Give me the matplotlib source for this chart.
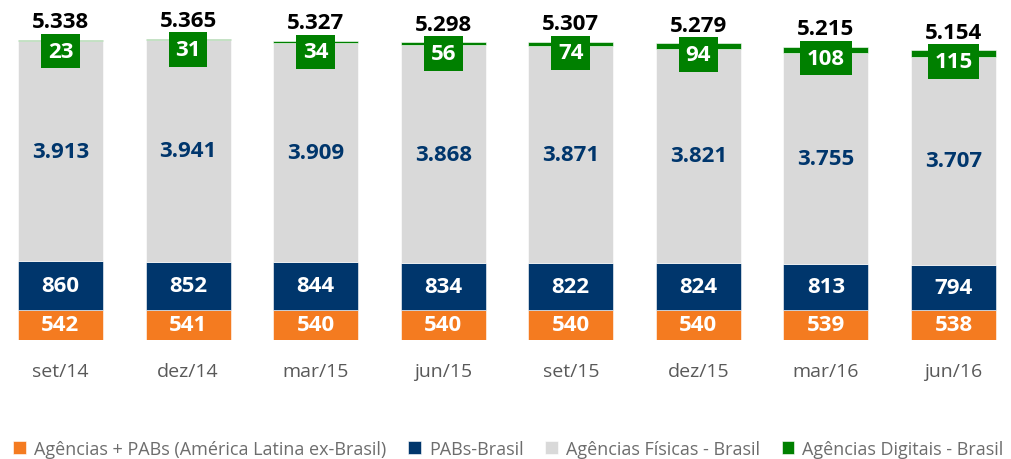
import matplotlib
matplotlib.use("Agg")
import matplotlib.pyplot as plt
import numpy as np

plt.rcParams['font.family'] = ['Open Sans', 'DejaVu Sans']

periods = ['set/14', 'dez/14', 'mar/15', 'jun/15', 'set/15', 'dez/15', 'mar/16', 'jun/16']
latam = [542, 541, 540, 540, 540, 540, 539, 538]
pabs = [860, 852, 844, 834, 822, 824, 813, 794]
fisicas = [3913, 3941, 3909, 3868, 3871, 3821, 3755, 3707]
digitais = [23, 31, 34, 56, 74, 94, 108, 115]
totals = [5338, 5365, 5327, 5298, 5307, 5279, 5215, 5154]

series_names = ['Agências + PABs (América Latina ex-Brasil)', 'PABs-Brasil',
                'Agências Físicas - Brasil', 'Agências Digitais - Brasil']
colors = ['#F47B20', '#00366C', '#D9D9D9', '#008000']
label_colors = ['white', 'white', '#00366C', 'white']

def fmt(v):
    return f"{v:,}".replace(',', '.')

fig = plt.figure(figsize=(10.11, 4.6), dpi=100)
ax = fig.add_axes([0, 0.2587, 1, 0.7413])

x = np.arange(len(periods))
width = 0.666
bottom = np.zeros(len(periods))
data = [latam, pabs, fisicas, digitais]
bars = []
for vals, c, name in zip(data, colors, series_names):
    b = ax.bar(x, vals, width, bottom=bottom, color=c, label=name,
               edgecolor='white', linewidth=0.4)
    bars.append(b)
    bottom = bottom + np.array(vals)

# labels inside segments
bottom = np.zeros(len(periods))
for k, (vals, lc) in enumerate(zip(data[:3], label_colors[:3])):
    for i, v in enumerate(vals):
        ax.text(x[i], bottom[i] + v / 2, fmt(v), ha='center', va='center',
                color=lc, fontsize=16, fontweight='bold')
    bottom = bottom + np.array(vals)

# digital labels in green boxes
for i, v in enumerate(digitais):
    ax.annotate(fmt(v), (x[i], totals[i]), xytext=(0, -8), textcoords='offset points',
                ha='center', va='center', color='white', fontsize=16, fontweight='bold',
                bbox=dict(boxstyle='square,pad=0.3', fc='#008000', ec='none'))

# totals
for i, t in enumerate(totals):
    ax.annotate(fmt(t), (x[i], totals[i]), xytext=(0, 13), textcoords='offset points',
                ha='center', va='center', color='black', fontsize=16, fontweight='bold')

ax.set_xlim(-0.474, 7.451)
ax.set_ylim(0, 6068)
ax.set_xticks(x)
ax.set_xticklabels(periods, fontsize=14, color='#595959')
ax.tick_params(axis='x', length=0, pad=16)
ax.set_yticks([])
for s in ax.spines.values():
    s.set_visible(False)

fig.legend(handles=bars, labels=series_names, loc='center', bbox_to_anchor=(0.503, 0.022),
           ncol=4, frameon=False, fontsize=13, labelcolor='#6D6D6D',
           handlelength=0.7, handleheight=0.7, handletextpad=0.45, columnspacing=1.2)

fig.savefig('out.png', dpi=100)
